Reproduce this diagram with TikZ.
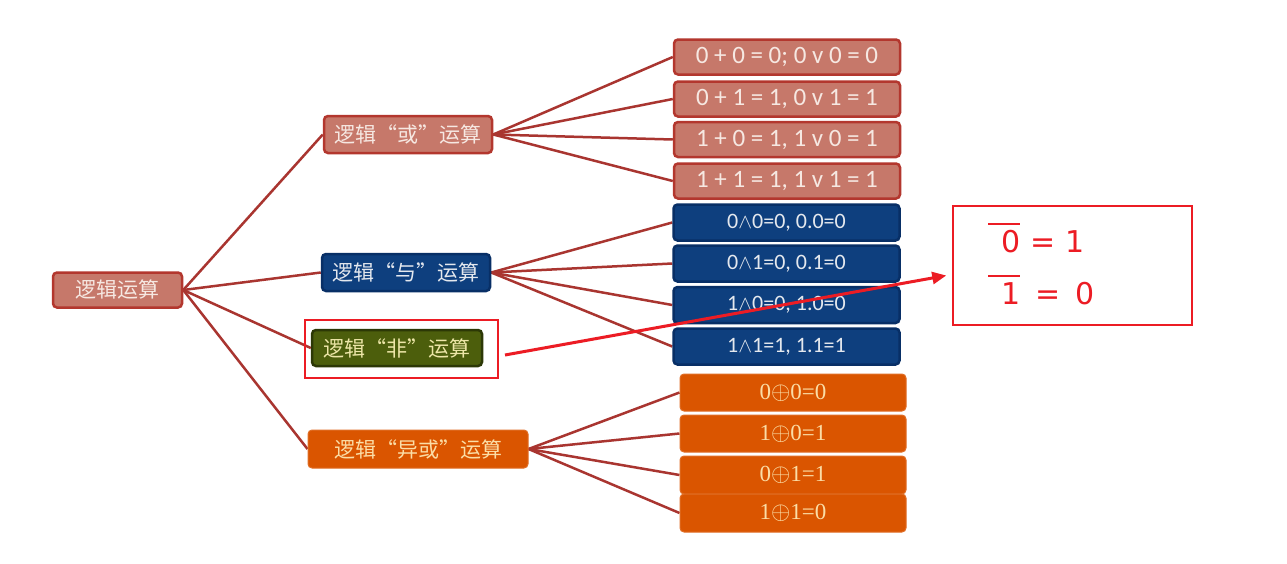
\documentclass[tikz,border=0pt]{standalone}
\usepackage{fontspec}
\setmainfont{Carlito}
\newfontfamily\cjk{Noto Sans CJK SC}
\newfontfamily\serifnum{Liberation Serif}
\newfontfamily\handfont{DejaVu Sans}
\usetikzlibrary{arrows.meta,backgrounds}
\definecolor{orfill}{HTML}{C6786A}
\definecolor{orline}{HTML}{B3372E}
\definecolor{andfill}{HTML}{0E3F7E}
\definecolor{andline}{HTML}{082F66}
\definecolor{notfill}{HTML}{4C5E0C}
\definecolor{notline}{HTML}{2C3806}
\definecolor{xorfill}{HTML}{DA5500}
\definecolor{conn}{HTML}{A93530}
\definecolor{redmark}{HTML}{EC1C24}
\definecolor{ortext}{HTML}{F6E8E2}
\definecolor{andtext}{HTML}{E4E8EE}
\definecolor{nottext}{HTML}{EDE6A8}
\definecolor{xortext}{HTML}{FBDDA6}
\newcommand\handbar[1]{\leavevmode\rlap{\kern-0.45em\rule[0.9em]{1.05em}{2.5pt}}#1}
\tikzset{
  box/.style={rectangle, rounded corners=4pt, line width=2.5pt, inner sep=0pt, align=center},
  cat/.style={box, font=\cjk\fontsize{21}{24}\selectfont},
  leaf/.style={box, minimum width=226pt, font=\fontsize{22}{26}\selectfont},
  orleaf/.style={leaf, font=\fontsize{25}{29}\selectfont},
  xorleaf/.style={leaf, font=\serifnum\fontsize{23}{27}\selectfont},
  orbox/.style={fill=orfill, draw=orline, text=ortext},
  andbox/.style={fill=andfill, draw=andline, text=andtext},
  notbox/.style={fill=notfill, draw=notline, text=nottext},
  xorbox/.style={fill=xorfill, draw=xorfill!85!white, text=xortext, line width=1pt},
  link/.style={draw=conn, line width=2.5pt},
  hand/.style={text=redmark, font=\handfont\fontsize{30}{34}\selectfont},
  redframe/.style={draw=redmark, line width=1.5pt, inner sep=0pt}
}
\begin{document}
\begin{tikzpicture}[x=1pt,y=-1pt]
\useasboundingbox (0,0) rectangle (1287,563);
% leaves
\node[orleaf, orbox, minimum height=35pt] (o1) at (787,57) {0 + 0 = 0; 0 v 0 = 0};
\node[orleaf, orbox, minimum height=35pt] (o2) at (787,99) {0 + 1 = 1, 0 v 1 = 1};
\node[orleaf, orbox, minimum height=35pt] (o3) at (787,139.5) {1 + 0 = 1, 1 v 0 = 1};
\node[orleaf, orbox, minimum height=35pt] (o4) at (787,181) {1 + 1 = 1, 1 v 1 = 1};
\node[leaf, andbox, minimum height=36pt] (a1) at (786.5,222.5) {0$\wedge$0=0, 0.0=0};
\node[leaf, andbox, minimum height=36pt] (a2) at (786.5,263.5) {0$\wedge$1=0, 0.1=0};
\node[leaf, andbox, minimum height=36pt] (a3) at (786.5,305) {1$\wedge$0=0, 1.0=0};
\node[leaf, andbox, minimum height=36pt] (a4) at (786.5,346.5) {1$\wedge$1=1, 1.1=1};
\node[xorleaf, xorbox, minimum height=37pt] (x1) at (793,392.5) {0$\oplus$0=0};
\node[xorleaf, xorbox, minimum height=37pt] (x2) at (793,433.5) {1$\oplus$0=1};
\node[xorleaf, xorbox, minimum height=38pt] (x3) at (793,475) {0$\oplus$1=1};
\node[xorleaf, xorbox, minimum height=38pt] (x4) at (793,513) {1$\oplus$1=0};
% category nodes
\node[cat, orbox, minimum width=129pt, minimum height=35pt] (root) at (117.5,290) {逻辑运算};
\node[cat, orbox, minimum width=168pt, minimum height=37pt] (or) at (408,134.5) {逻辑“或”运算};
\node[cat, andbox, minimum width=168pt, minimum height=37pt] (and) at (406,272.5) {逻辑“与”运算};
\node[cat, notbox, minimum width=170pt, minimum height=36pt] (not) at (397,348) {逻辑“非”运算};
\node[cat, xorbox, minimum width=220pt, minimum height=38pt] (xor) at (418,449) {逻辑“异或”运算};
% links
\begin{scope}[on background layer]
\fill[white] (0,0) rectangle (1287,563);
\foreach \c in {or,and,not,xor} \draw[link] (root.east) -- (\c.west);
\foreach \l in {o1,o2,o3,o4} \draw[link] (or.east) -- (\l.west);
\foreach \l in {a1,a2,a3,a4} \draw[link] (and.east) -- (\l.west);
\foreach \l in {x1,x2,x3,x4} \draw[link] (xor.east) -- (\l.west);
\end{scope}
% annotation
\node[redframe, minimum width=193pt, minimum height=58pt] (hl) at (401.5,349) {};
\node[redframe, minimum width=239pt, minimum height=119pt] (note) at (1072.5,265.5) {};
\coordinate (as) at (505,355);
\draw[draw=redmark, line width=3pt, -{Triangle[length=14pt,width=12pt]}] (as) -- ([xshift=-6pt,yshift=-10pt]note.west);
\node[hand, anchor=base west] (n1) at (998,252) {\handbar{0}\,\,=\,\,1};
\node[hand, anchor=base west] (n2) at (998,304) {\handbar{1}\,\,\,=\,\,\,0};
\end{tikzpicture}
\end{document}
